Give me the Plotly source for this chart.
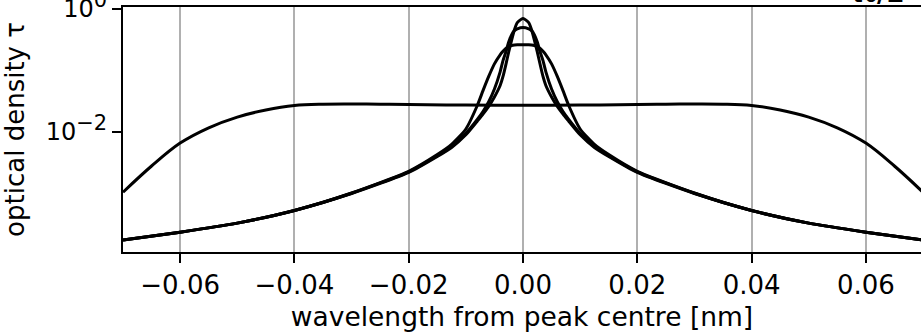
import plotly.graph_objects as go

# ---- data ----
# positive offsets from peak centre [nm] for the three narrow profiles
OFFSETS = [0, 0.001, 0.0015, 0.002, 0.0025, 0.003, 0.0035, 0.004, 0.005, 0.006,
           0.007, 0.008, 0.010, 0.0125, 0.015, 0.020, 0.030, 0.040, 0.050, 0.060, 0.070]
TAU_A = [0.70, 0.60, 0.46, 0.31, 0.20, 0.125, 0.080, 0.057, 0.037, 0.026,
         0.0195, 0.0150, 0.0090, 0.0056, 0.0040, 0.0022, 0.00100, 0.00053, 0.00033, 0.000235, 0.000175]
TAU_B = [0.50, 0.475, 0.445, 0.38, 0.29, 0.20, 0.145, 0.095, 0.050, 0.031,
         0.0215, 0.0160, 0.0095, 0.0058, 0.0041, 0.00225, 0.00101, 0.00053, 0.00033, 0.000235, 0.000175]
TAU_C = [0.262, 0.262, 0.260, 0.255, 0.245, 0.228, 0.205, 0.180, 0.128, 0.080,
         0.047, 0.027, 0.0112, 0.0063, 0.0043, 0.0023, 0.00102, 0.00053, 0.00033, 0.000235, 0.000175]
# broad, flat-topped profile
OFFSETS_D = [0, 0.01, 0.02, 0.025, 0.03, 0.035, 0.04, 0.045, 0.05, 0.055, 0.06, 0.065, 0.07]
TAU_D = [0.0272, 0.0274, 0.0279, 0.0283, 0.0286, 0.0284, 0.0270, 0.0228, 0.0175,
         0.0117, 0.0066, 0.0028, 0.00105]

X_TICKS = [-0.06, -0.04, -0.02, 0.0, 0.02, 0.04, 0.06]
Y_TICKS = [1, 0.01]
Y_TICK_TEXT = ["10<sup><span style='font-size:21px'>0</span></sup>",
               "10<sup><span style='font-size:21px'>\u22122</span></sup>"]


def mirror(offs, vals):
    xs = [-o for o in reversed(offs[1:])] + list(offs)
    ys = list(reversed(vals[1:])) + list(vals)
    return xs, ys


FONT = "DejaVu Sans"
fig = go.Figure()
for i, (offs, vals) in enumerate([(OFFSETS_D, TAU_D), (OFFSETS, TAU_C), (OFFSETS, TAU_B), (OFFSETS, TAU_A)]):
    xs, ys = mirror(offs, vals)
    fig.add_trace(go.Scatter(x=xs, y=ys, mode="lines",
                             line=dict(color="black", width=3, shape="spline",
                                       smoothing=1.0 if i == 0 else 0.6),
                             showlegend=False, hoverinfo="skip"))

fig.add_annotation(text="<b>\u03c4\u2080/2</b>", xref="paper", yref="paper",
                   x=0.945, y=0.986, xanchor="center", yanchor="bottom", showarrow=False,
                   font=dict(family=FONT, size=26, color="black"))

fig.update_layout(
    width=921, height=334,
    margin=dict(l=123, r=0, t=7, b=82, autoexpand=False),
    paper_bgcolor="white", plot_bgcolor="white",
    font=dict(family=FONT, size=26, color="black"),
)
fig.update_xaxes(
    range=[-0.07, 0.06965], tickvals=X_TICKS, tickformat=".2f",
    tickfont=dict(size=26),
    showgrid=True, gridcolor="#b0b0b0", gridwidth=2,
    showline=True, linecolor="black", linewidth=2, mirror=True,
    ticks="outside", ticklen=9, tickwidth=2, tickcolor="black",
    zeroline=False, automargin=False,
    title=dict(text="wavelength from peak centre [nm]", standoff=8, font=dict(size=26.5)),
)
fig.update_yaxes(
    type="log", range=[-3.951, 0.0325], tickvals=Y_TICKS, ticktext=Y_TICK_TEXT,
    tickfont=dict(size=24), ticklabeloverflow="allow",
    showgrid=False, showline=True, linecolor="black", linewidth=2, mirror=False,
    ticks="outside", ticklen=9, tickwidth=2, tickcolor="black",
    zeroline=False, automargin=False,
    title=dict(text="optical density \u03c4", standoff=21, font=dict(size=26)),
)

fig.write_html("out.html", config={"displayModeBar": False},
               post_script="document.body.style.margin='0px';")
